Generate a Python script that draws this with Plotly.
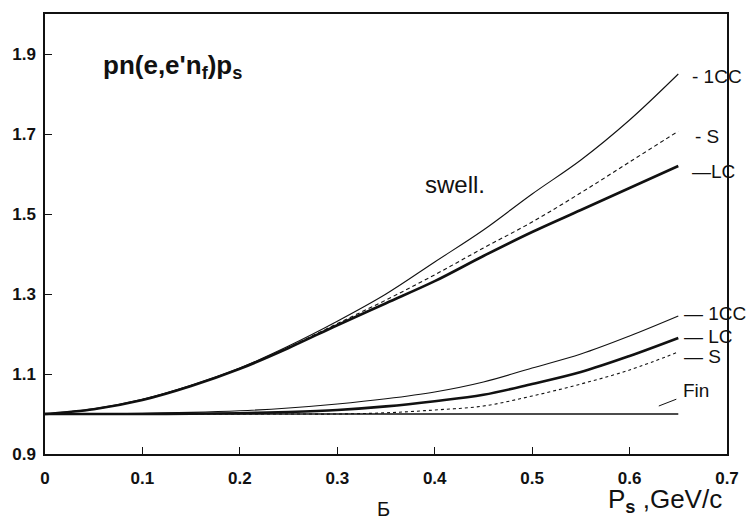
import plotly.graph_objects as go

# momentum grid, GeV/c
ps = [0.0, 0.05, 0.10, 0.15, 0.20, 0.25, 0.30, 0.35, 0.40, 0.45, 0.50, 0.55, 0.60, 0.65]

# swollen-nucleon ("swell.") curves
swell_1cc = [1.000, 1.013, 1.037, 1.072, 1.115, 1.170, 1.232, 1.300, 1.380, 1.460, 1.550, 1.635, 1.735, 1.850]
swell_s = [1.000, 1.012, 1.036, 1.071, 1.114, 1.167, 1.226, 1.285, 1.348, 1.415, 1.480, 1.553, 1.630, 1.707]
swell_lc = [1.000, 1.012, 1.035, 1.070, 1.113, 1.165, 1.222, 1.277, 1.332, 1.395, 1.455, 1.510, 1.565, 1.620]

# free-nucleon curves
free_1cc = [1.000, 1.000, 1.002, 1.004, 1.008, 1.015, 1.025, 1.038, 1.055, 1.080, 1.115, 1.150, 1.195, 1.245]
free_lc = [1.000, 1.000, 1.000, 1.001, 1.002, 1.005, 1.010, 1.019, 1.032, 1.048, 1.075, 1.105, 1.145, 1.190]
free_s = [1.000, 1.000, 1.000, 1.000, 1.000, 1.000, 1.000, 1.003, 1.010, 1.020, 1.045, 1.075, 1.110, 1.155]
fin = [1.000] * len(ps)

x_ticks = [0.0, 0.1, 0.2, 0.3, 0.4, 0.5, 0.6, 0.7]
x_ticktext = ["0", "0.1", "0.2", "0.3", "0.4", "0.5", "0.6", "0.7"]
y_ticks = [0.9, 1.1, 1.3, 1.5, 1.7, 1.9]
y_ticktext = ["0.9", "1.1", "1.3", "1.5", "1.7", "1.9"]

INK = "#111111"
FONT = "Liberation Sans"

fig = go.Figure()

def curve(y, width, dash="solid"):
    fig.add_trace(go.Scatter(
        x=ps, y=y, mode="lines", line_shape="spline",
        line=dict(color=INK, width=width, dash=dash),
        showlegend=False, hoverinfo="skip",
    ))

curve(fin, 1.4)
curve(free_s, 1.1, "3px,3px")
curve(free_lc, 2.6)
curve(free_1cc, 1.1)
curve(swell_s, 1.1, "4px,3px")
curve(swell_lc, 2.6)
curve(swell_1cc, 1.1)

lab_font = dict(family=FONT, size=19, color=INK)

# curve labels at the right end of each line
labels = [
    ("- 1CC", 0.662, 1.845),
    ("- S", 0.665, 1.694),
    ("—LC", 0.662, 1.606),
    ("— 1CC", 0.654, 1.251),
    ("— LC", 0.654, 1.193),
    ("— S", 0.654, 1.144),
    ("Fin", 0.653, 1.059),
]
for text, lx, ly in labels:
    fig.add_annotation(x=lx, y=ly, xref="x", yref="y", text=text,
                       showarrow=False, xanchor="left", yanchor="middle",
                       font=lab_font)

# leader line for the "Fin" label
fig.add_shape(type="line", xref="x", yref="y", x0=0.630, y0=1.020,
              x1=0.648, y1=1.037, line=dict(color=INK, width=1))

fig.add_annotation(xref="paper", yref="paper", x=0.082, y=0.880,
                   text="<b>pn(e,e'n<sub>f</sub>)p<sub>s</sub></b>",
                   showarrow=False, xanchor="left", yanchor="middle",
                   font=dict(family=FONT, size=26, color=INK))

fig.add_annotation(xref="paper", yref="paper", x=0.554, y=0.613,
                   text="swell.", showarrow=False,
                   xanchor="left", yanchor="middle",
                   font=dict(family=FONT, size=24, color=INK))

fig.add_annotation(xref="paper", yref="paper", x=0.822, y=-0.106,
                   text="P<sub><b>s</b></sub> ,GeV/c", showarrow=False,
                   xanchor="left", yanchor="middle",
                   font=dict(family=FONT, size=26, color=INK))

fig.add_annotation(xref="paper", yref="paper", x=0.497, y=-0.124,
                   text="Б", showarrow=False,
                   xanchor="center", yanchor="middle",
                   font=dict(family=FONT, size=20, color=INK))

axis_common = dict(
    showline=True, linecolor=INK, linewidth=1.5, mirror=True,
    showgrid=False, zeroline=False,
    ticks="inside", ticklen=7, tickwidth=1, tickcolor=INK,
    tickfont=dict(family=FONT, size=17, color=INK, weight=700),
)

fig.update_xaxes(range=[0, 0.7], tickvals=x_ticks, ticktext=x_ticktext,
                 ticklabelstandoff=8, **axis_common)
fig.update_yaxes(range=[0.9, 2.0], tickvals=y_ticks, ticktext=y_ticktext,
                 ticklabelstandoff=4, **axis_common)

fig.update_layout(
    width=751, height=526,
    margin=dict(l=44, r=18, t=12, b=72),
    plot_bgcolor="white", paper_bgcolor="white",
)

fig.write_html("out.html")
